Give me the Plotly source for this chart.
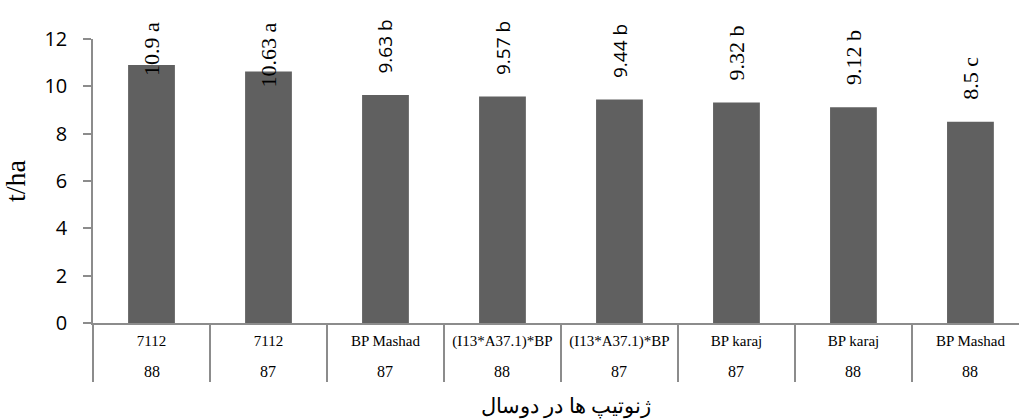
import plotly.graph_objects as go

# Grain yield of genotypes over two seasons (t/ha)
genotypes = ["7112", "7112", "BP Mashad", "(I13*A37.1)*BP", "(I13*A37.1)*BP",
             "BP karaj", "BP karaj", "BP Mashad"]
years = ["88", "87", "87", "88", "87", "87", "88", "88"]
yields = [10.9, 10.63, 9.63, 9.57, 9.44, 9.32, 9.12, 8.5]
groups = ["a", "a", "b", "b", "b", "b", "b", "c"]

SERIF = "Liberation Serif, Times New Roman, serif"
SANS = "Open Sans, sans-serif"

# typeface used for each value label
label_fonts = [SERIF, SERIF, SANS, SANS, SANS, SERIF, SERIF, SERIF]

keys = [f"{g} ({y})" for g, y in zip(genotypes, years)]

BAR = "#606060"
AXIS = "#8c8c8c"

fig = go.Figure(go.Bar(
    x=keys, y=yields, width=0.4,
    marker=dict(color=BAR, line=dict(width=0)),
    hoverinfo="skip",
))

Y_MAX = 12
LABEL_SPAN = 3.1  # approx. height of a rotated label plus its gap, in axis units

annotations = []
for k, v, g, f in zip(keys, yields, groups, label_fonts):
    text = f"{v:g} {g}"
    size = 19 if f == SANS else 22
    common = dict(x=k, xref="x", text=text, textangle=-90, showarrow=False,
                  font=dict(family=f, size=size, color="#000000"))
    if v + LABEL_SPAN > Y_MAX + 0.9:
        # label would run off the top: pin it to the chart's top edge
        annotations.append(dict(y=1.065, yref="paper", yanchor="top", **common))
    else:
        annotations.append(dict(y=v, yref="y", yanchor="bottom", yshift=20, **common))

# second row of the category axis: season
for k, yr in zip(keys, years):
    annotations.append(dict(x=k, xref="x", y=0, yref="paper", yanchor="middle",
                            yshift=-48, text=yr, showarrow=False,
                            font=dict(family=SERIF, size=16, color="#000000")))

# x axis title
annotations.append(dict(x=0.511, xref="paper", y=0, yref="paper", yshift=-83,
                        yanchor="middle", text="ژنوتیپ ها در دوسال", showarrow=False,
                        font=dict(family=SERIF, size=21, color="#000000")))

fig.update_layout(
    width=1019, height=419,
    margin=dict(l=93, r=0, t=39, b=96),
    paper_bgcolor="white", plot_bgcolor="white",
    showlegend=False,
    annotations=annotations,
    xaxis=dict(
        type="category",
        range=[-0.5, 7.415],
        tickmode="array", tickvals=keys, ticktext=genotypes,
        tickson="boundaries", ticks="outside", ticklen=57, tickwidth=1.5,
        tickcolor=AXIS,
        ticklabelstandoff=3,
        tickfont=dict(family=SERIF, size=15, color="#000000"),
        showline=True, linecolor=AXIS, linewidth=1.5,
        showgrid=False, zeroline=False,
    ),
    yaxis=dict(
        range=[0, Y_MAX], dtick=2,
        ticks="outside", ticklen=8, tickwidth=1.5, tickcolor=AXIS,
        ticklabelstandoff=12,
        tickfont=dict(family=SANS, size=20, color="#000000"),
        showline=True, linecolor=AXIS, linewidth=1.5,
        showgrid=False, zeroline=False,
        title=dict(text="t/ha", standoff=12,
                   font=dict(family=SERIF, size=28, color="#000000")),
    ),
)

fig.write_html("out.html")
